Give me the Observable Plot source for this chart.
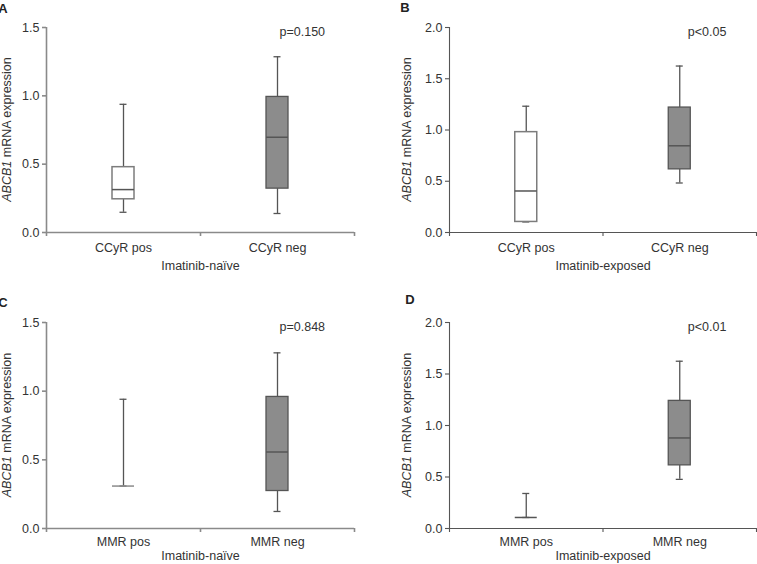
<!DOCTYPE html>
<html><head><meta charset="utf-8">
<script src="https://cdn.jsdelivr.net/npm/d3@7"></script>
<script src="https://cdn.jsdelivr.net/npm/@observablehq/plot@0.6"></script>
<style>
body{margin:0;background:#fff}
#wrap{position:relative;width:757px;height:564px;overflow:hidden}
.panel{position:absolute}
</style>
</head><body><div id="wrap"></div>
<script>
// ---- data ----
const ccyrCategories = ["CCyR pos", "CCyR neg"];
const mmrCategories = ["MMR pos", "MMR neg"];
const naiveLabel = "Imatinib-naïve";
const exposedLabel = "Imatinib-exposed";
const naiveTicks = [0, 0.5, 1.0, 1.5];
const exposedTicks = [0, 0.5, 1.0, 1.5, 2.0];
const pValues = ["p=0.150", "p<0.05", "p=0.848", "p<0.01"];

// Panel A: CCyR, imatinib-naive
const aMin = [0.148, 0.139];
const aQ1 = [0.243, 0.321];
const aMed = [0.314, 0.697];
const aQ3 = [0.478, 0.992];
const aMax = [0.938, 1.286];
// Panel B: CCyR, imatinib-exposed
const bMin = [0.103, 0.483];
const bQ1 = [0.103, 0.616];
const bMed = [0.405, 0.846];
const bQ3 = [0.979, 1.219];
const bMax = [1.232, 1.624];
// Panel C: MMR, imatinib-naive
const cMin = [0.309, 0.124];
const cQ1 = [0.309, 0.273];
const cMed = [0.309, 0.557];
const cQ3 = [0.309, 0.958];
const cMax = [0.941, 1.279];
// Panel D: MMR, imatinib-exposed
const dMin = [0.107, 0.477];
const dQ1 = [0.107, 0.613];
const dMed = [0.107, 0.879];
const dQ3 = [0.107, 1.239];
const dMax = [0.340, 1.624];

const FONT = '"Liberation Sans", Arial, Helvetica, sans-serif';
const TEXT = "#333";
const DARK = "#555";

function panel(o) {
  const rows = o.cats.map((c, i) => ({i, cat: c, min: o.min[i], q1: o.q1[i], med: o.med[i], q3: o.q3[i], max: o.max[i]}));
  const yMax = o.ticks[o.ticks.length - 1];
  const band = (o.width - o.ml - o.mr) / 2;
  const boxInset = (band - 22) / 2;
  const capInset = (band - 7) / 2;
  const plot = Plot.plot({
    width: o.width, height: 282,
    marginLeft: o.ml, marginRight: o.mr, marginTop: o.mt, marginBottom: o.mb,
    style: {fontFamily: FONT, fontSize: "12.5px", color: TEXT, background: "#fff", overflow: "visible"},
    x: {domain: [-0.5, 1.5], axis: null},
    y: {domain: [0, yMax], axis: null},
    marks: [
      Plot.axisY({ticks: o.ticks, tickSize: 4, tickPadding: 3, tickFormat: d3.format(".1f"), label: null, stroke: o.axisColor, strokeWidth: o.axisWidth, fill: TEXT}),
      Plot.axisX({ticks: [-0.5, 0.5, 1.5], tickSize: 4, tickFormat: () => "", label: null, stroke: o.axisColor, strokeWidth: o.axisWidth}),
      Plot.axisX({ticks: [0, 1], tickSize: 0, tickPadding: o.tickPad, tickFormat: i => o.cats[i], label: null, fill: TEXT}),
      Plot.ruleY([0], {stroke: o.axisColor, strokeWidth: o.axisWidth}),
      Plot.ruleX([-0.5], {stroke: o.axisColor, strokeWidth: o.axisWidth}),
      Plot.text([o.group], {text: d => d, frameAnchor: "bottom", dy: o.titleDy, lineAnchor: "middle", fill: TEXT, fontSize: 12.5}),
      // whiskers
      Plot.ruleX(rows, {x: "i", y1: "q3", y2: "max", stroke: DARK, strokeWidth: 1.3}),
      Plot.ruleX(rows, {x: "i", y1: "min", y2: "q1", stroke: DARK, strokeWidth: 1.3}),
      Plot.ruleY(rows, {y: "max", x1: d => d.i - 0.5, x2: d => d.i + 0.5, insetLeft: capInset, insetRight: capInset, stroke: DARK, strokeWidth: 1.3}),
      Plot.ruleY(rows, {y: "min", x1: d => d.i - 0.5, x2: d => d.i + 0.5, insetLeft: capInset, insetRight: capInset, stroke: DARK, strokeWidth: 1.3}),
      // boxes
      Plot.rect(rows, {filter: d => d.i === 0 && d.q3 > d.q1, x1: d => d.i - 0.5, x2: d => d.i + 0.5, y1: "q1", y2: "q3", insetLeft: boxInset, insetRight: boxInset, fill: "#fff", stroke: "#7c7c7c", strokeWidth: 1.5}),
      Plot.rect(rows, {filter: d => d.i === 1, x1: d => d.i - 0.5, x2: d => d.i + 0.5, y1: "q1", y2: "q3", insetLeft: boxInset, insetRight: boxInset, fill: "#8c8c8c", stroke: "#555", strokeWidth: 1.3}),
      Plot.ruleY(rows, {y: "med", x1: d => d.i - 0.5, x2: d => d.i + 0.5, insetLeft: boxInset, insetRight: boxInset, stroke: d => (d.q3 > d.q1 ? DARK : o.collapsedColor), strokeWidth: 1.5}),
      // p value
      Plot.text([o.p], {text: d => d, x: () => 1, y: () => yMax * 0.977, textAnchor: "start", dx: o.pDx, fill: TEXT, fontSize: 12.5})
    ]
  });
  const svg = d3.select(plot);
  const cy = o.mt + (282 - o.mt - o.mb) / 2;
  const lab = svg.append("text")
    .attr("transform", `translate(${o.ml + o.labelDx},${cy}) rotate(-90)`)
    .attr("text-anchor", "middle").attr("dominant-baseline", "middle")
    .attr("fill", TEXT).attr("font-size", 12.5).attr("font-family", FONT);
  lab.append("tspan").attr("font-style", "italic").text("ABCB1");
  lab.append("tspan").text(" mRNA expression");
  svg.append("text").attr("x", o.letterX).attr("y", o.letterY)
    .attr("font-weight", "bold").attr("font-size", 13).attr("fill", "#222").attr("font-family", FONT)
    .text(o.letter);
  const div = document.createElement("div");
  div.className = "panel";
  div.style.left = o.left + "px";
  div.style.top = o.top + "px";
  div.appendChild(plot);
  document.getElementById("wrap").appendChild(div);
}

panel({letter: "A", cats: ccyrCategories, group: naiveLabel, ticks: naiveTicks, p: pValues[0],
  min: aMin, q1: aQ1, med: aMed, q3: aQ3, max: aMax,
  left: 0, top: 0, width: 378, ml: 46, mr: 24, mt: 27, mb: 50,
  axisColor: "#8a8a8a", axisWidth: 1.6, collapsedColor: "#8a8a8a", tickPad: 11, titleDy: 33, labelDx: -38, pDx: 2, letterX: 3, letterY: 13});
panel({letter: "B", cats: ccyrCategories, group: exposedLabel, ticks: exposedTicks, p: pValues[1],
  min: bMin, q1: bQ1, med: bMed, q3: bQ3, max: bMax,
  left: 378, top: 0, width: 379, ml: 71, mr: 1, mt: 27, mb: 50,
  axisColor: "#555", axisWidth: 1.1, collapsedColor: "#555", tickPad: 11, titleDy: 33, labelDx: -41, pDx: 8, letterX: 27, letterY: 12});
panel({letter: "C", cats: mmrCategories, group: naiveLabel, ticks: naiveTicks, p: pValues[2],
  min: cMin, q1: cQ1, med: cMed, q3: cQ3, max: cMax,
  left: 0, top: 282, width: 378, ml: 46, mr: 24, mt: 40, mb: 36,
  axisColor: "#8a8a8a", axisWidth: 1.6, collapsedColor: "#8a8a8a", tickPad: 9, titleDy: 27, labelDx: -38, pDx: 2, letterX: 3, letterY: 25});
panel({letter: "D", cats: mmrCategories, group: exposedLabel, ticks: exposedTicks, p: pValues[3],
  min: dMin, q1: dQ1, med: dMed, q3: dQ3, max: dMax,
  left: 378, top: 282, width: 379, ml: 71, mr: 1, mt: 40, mb: 36,
  axisColor: "#555", axisWidth: 1.1, collapsedColor: "#555", tickPad: 9, titleDy: 27, labelDx: -41, pDx: 8, letterX: 32, letterY: 22});
</script>
</body></html>
